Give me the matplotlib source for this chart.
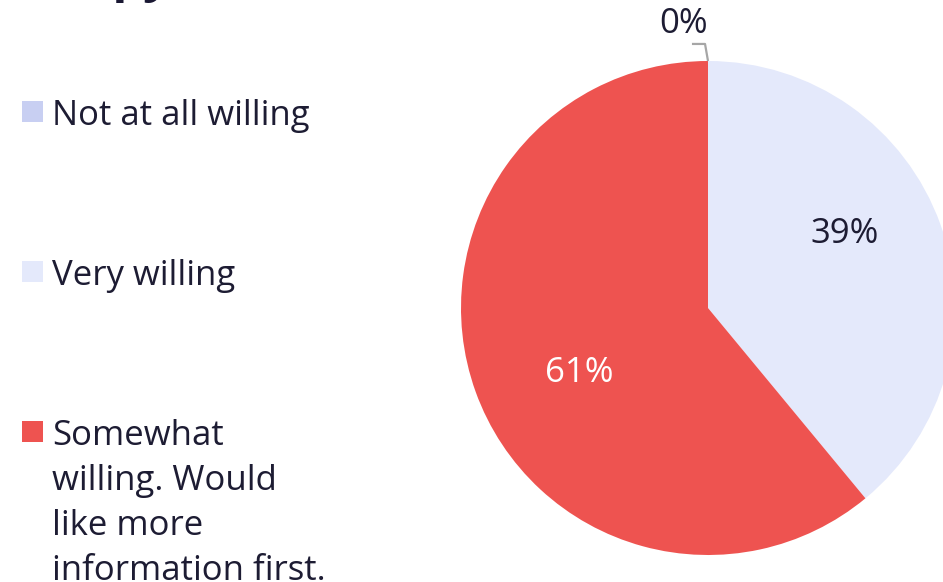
import numpy as np
import matplotlib
matplotlib.use("Agg")
import matplotlib.pyplot as plt
from matplotlib.patches import Rectangle

categories = ["Not at all willing", "Very willing", "Somewhat willing. Would like more information first."]
legend_labels = ["Not at all willing", "Very willing", "Somewhat\nwilling. Would\nlike more\ninformation first."]
values = [0, 39, 61]
pct_labels = ["0%", "39%", "61%"]
colors = ["#c8cff2", "#e4e9fb", "#ee5350"]
text_color = "#1d1c33"

plt.rcParams['font.family'] = ['Open Sans', 'DejaVu Sans']

W, H = 943, 582
fig = plt.figure(figsize=(W / 100, H / 100), dpi=100)
fig.patch.set_facecolor("white")

# pie axes: center (708,308) px, radius 247 px
cx, cy, r = 708, 308, 247
ax = fig.add_axes([(cx - r) / W, (H - cy - r) / H, 2 * r / W, 2 * r / H])
wedges, _ = ax.pie(values, colors=colors, startangle=90, counterclock=False,
                   radius=1, wedgeprops=dict(linewidth=0))
ax.set_xlim(-1, 1)
ax.set_ylim(-1, 1)
ax.set_aspect("equal")
ax.axis("off")

# percentage labels
label_pos = {1: (0.555, 0.30), 2: (-0.52, -0.265)}
for i, w in enumerate(wedges):
    if i == 0:
        continue
    x, y = label_pos[i]
    ax.text(x, y, pct_labels[i], ha="center", va="center", fontsize=25,
            color=text_color if i == 1 else "white", clip_on=False)

# 0% label with leader
w0 = wedges[0]
a0 = np.deg2rad((w0.theta1 + w0.theta2) / 2)
px, py = np.cos(a0), np.sin(a0)
ax.plot([px, px - 0.012, px - 0.065], [py, py + 0.069, py + 0.069],
        color="#a6a6a6", lw=1.6, clip_on=False, solid_capstyle="butt")
ax.text(-0.10, 1.15, pct_labels[0], ha="center", va="center", fontsize=25,
        color=text_color, clip_on=False)

# legend (manual)
ys = [112, 272, 432]
for lab, c, yy in zip(legend_labels, colors, ys):
    fig.patches.append(Rectangle((22 / W, 1 - (yy + 10) / H), 21 / W, 21 / H,
                                 transform=fig.transFigure, color=c, lw=0))
    fig.text(52 / W, 1 - (yy - 13) / H, lab, ha="left", va="top", fontsize=25,
             color=text_color, linespacing=1.42)

# clipped title (only descenders visible at the top edge)
fig.text(172 / W, 1 + 9 / H, "Therapy", ha="right", va="baseline", fontsize=36,
         fontweight="bold", color="#1a1833")

fig.savefig("out.png", dpi=100)
